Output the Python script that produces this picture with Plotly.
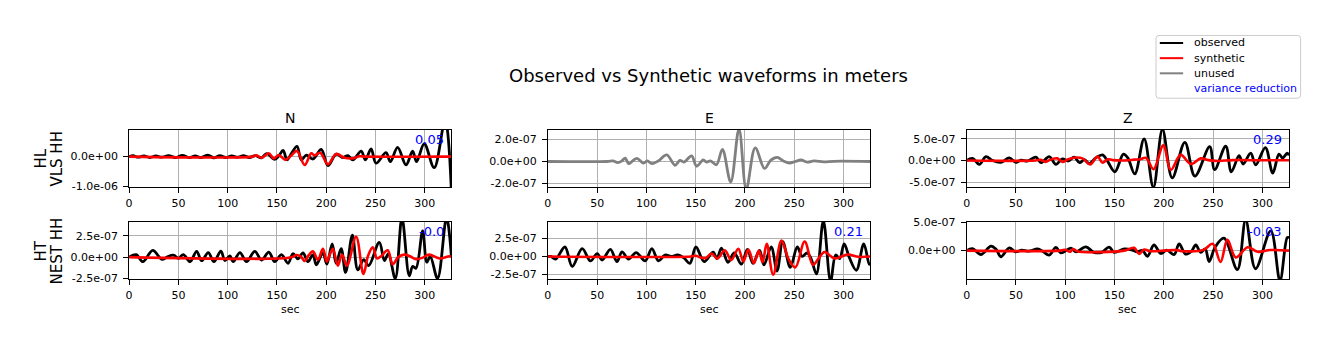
import plotly.graph_objects as go

W, H = 1329, 351
AMP = 1e-7  # amplitudes below are in units of 1e-7 m

# ---------------- data (time in sec, amplitude in 1e-7 m) ----------------
# HL / VLS HH  - N
vls_n_obs_t = [0, 4, 9, 15, 21, 27, 33, 40, 47, 54, 61, 67, 73, 80, 86, 92, 98, 104, 110, 116, 122, 128,
               134.3, 139.5, 147.7, 152, 156.2, 160.2, 164.6, 170.3, 174.7, 179.8, 186.5, 194.9, 201.7,
               210.1, 216.8, 221.9, 227, 235.4, 239.7, 245.5, 250.5, 260.6, 265, 272.4, 280.9, 287.6,
               291.6, 299.4, 309.5, 320.5, 327]
vls_n_obs_v = [0, 0.3, -0.2, 0.2, -0.3, 0.2, -0.2, 0.3, -0.3, 0.4, -0.3, 0.2, -0.3, 0.5, -0.4, 0.3, -0.3,
               0.2, -0.2, 0.3, -0.3, 0.3, -0.4, 1.0, -0.9, 0.3, 2.1, -1.1, 1.0, 3.4, -1.1, 0.5, -0.8,
               2.4, -3.0, 0.8, -0.3, 0.3, -1.1, 1.8, -1.1, 2.6, -2.2, 1.3, -1.7, 3.1, -2.8, 1.8, -1.7,
               4.3, -3.7, 12.0, -12.0]
vls_n_syn_t = [0, 125, 129.2, 134.3, 141.7, 146.7, 151.8, 158.5, 164.6, 170.3, 178.1, 184.8, 188.2, 193.9,
               201.7, 210.1, 218.5, 227, 233.7, 240, 327]
vls_n_syn_v = [0, 0, 0.4, -0.4, 1.1, -0.6, 0.5, -1.1, 0.4, 1.9, -2.8, 1.1, 0.4, 1.3, -2.6, 0.9, -0.4,
               -0.6, 0.1, 0, 0]

# HL / VLS HH  - E (unused)
vls_e_unu_t = [0, 60, 66, 71, 75, 78.5, 81.9, 86, 90.3, 97, 101, 105.5, 112, 120.6, 129, 134, 138, 145.8,
               150.9, 157.6, 161, 165, 171, 177.1, 185.5, 193.9, 201.3, 210.4, 219.8, 226, 232.6, 239,
               245, 251, 256.8, 263, 270, 280, 290, 327]
vls_e_unu_v = [0, 0, 0.05, -0.1, 0.05, 0.31, -0.2, 0.05, 0.29, -0.15, 0.05, -0.2, 0.05, 0.6, -0.34, 0.1,
               -0.05, 0.51, -0.43, 0.15, -0.05, 0.05, -0.29, 1.09, -1.86, 2.95, -2.5, 1.23, -0.63, 0.1,
               0.37, 0.05, -0.14, 0.0, 0.14, -0.05, 0.05, -0.03, 0.02, 0]

# HL / VLS HH  - Z
vls_z_obs_t = [0, 6, 12.8, 19.5, 26.3, 34.7, 43.2, 49.9, 55, 62, 70.2, 75.3, 83.7, 90.5, 97, 103, 109,
               114.5, 119.5, 124.3, 131, 137.8, 143, 150.3, 159, 163.5, 170.5, 180, 189.4, 198.6, 208.5,
               221.3, 231.5, 246.5, 251.5, 262.8, 268.5, 276.3, 280.5, 288.1, 293.2, 303, 310.5, 316.8,
               320.5, 325.2, 327]
vls_z_obs_v = [0, 0.5, -0.9, 0.9, 0.0, -0.4, 0.6, -0.4, 0.1, -0.1, 0.8, -0.5, 0.9, -0.9, 0.4, -0.1, 0.8,
               -0.5, 0.2, -0.7, 0.6, 1.3, -0.2, -2.6, 1.5, 0.6, -3.1, 5.0, -6.2, 7.2, -4.0, 4.2, -3.6,
               3.2, -2.1, 3.3, -2.6, 1.1, -0.8, 1.7, -1.0, 3.0, -2.9, 1.5, 0.6, 1.7, 1.2]
vls_z_syn_t = [0, 70, 75, 80, 85, 92, 97, 103, 110.7, 117.5, 125.3, 132.7, 137.8, 143, 148, 160, 170,
               176, 182, 189.5, 199.5, 207, 217.1, 227.3, 237.4, 245, 255, 270, 300, 327]
vls_z_syn_v = [0, 0, 0.15, -0.3, 0.2, 0.5, -0.3, 0.3, 0.7, 0.5, -0.9, 0.9, -0.5, 0.3, 0.1, 0.0, 0.2,
               0.3, 0.6, -2.0, 3.5, -2.2, 1.3, -0.8, 0.5, 0.1, -0.1, 0.1, 0.05, 0.05]

# HT / NEST HH - N
nest_n_obs_t = [0, 7.2, 13.9, 24, 33.2, 39, 45, 50, 55, 61.8, 68.5, 73.6, 80.3, 86, 93.1, 97.2, 102.2,
                105.6, 112.4, 119.1, 127.5, 134.3, 141.7, 147.7, 154.5, 161.2, 166.3, 171.3, 176.4, 181.4,
                186.5, 189.9, 196.6, 200.6, 206, 210, 215.1, 219.6, 226.5, 232, 238, 243, 253.8, 259,
                263, 270, 276.8, 284.2, 287.6, 291, 297.8, 302, 305.5, 312.9, 322, 327]
nest_n_obs_v = [0, 0.3, -0.53, 0.8, -0.27, 0.05, 0.23, -0.15, 0.3, -0.53, 0.68, -0.42, 0.53, -0.53, 0.72,
                -0.4, 0.15, -0.53, 0.53, -0.53, 0.68, -0.34, 0.6, -0.53, 0.3, -0.72, 0.42, -0.2, 0.5,
                -0.53, 0.3, -0.9, 0.5, -0.83, 1.55, -0.72, 1.0, -1.8, 2.6, -1.5, -0.3, -1.0, 1.74, -0.4,
                0.4, -2.5, 4.6, -2.2, -1.1, -1.3, 3.1, -0.6, 0.1, -2.5, 4.6, 0.0]
nest_n_syn_t = [0, 165, 169.6, 174, 178.1, 182, 186.5, 191.5, 196.6, 200.6, 203.5, 206.7, 211.8, 216,
                221, 230.3, 237.7, 242.5, 247.2, 251.5, 255.6, 262.3, 267.4, 273, 279.2, 285, 291, 297,
                304.4, 314.6, 324.7, 327]
nest_n_syn_v = [0, 0, 0.25, 0.1, -0.45, 0.2, 0.68, -0.3, 0.98, -0.53, 0.3, 0.98, -1.0, 0.3, -1.0, 2.4,
                -1.97, 0.2, 1.17, -0.15, 0.1, 0.8, -0.83, 0.0, 0.3, 0.1, -0.23, -0.1, 0.3, -0.15, 0.1, 0.05]

# HT / NEST HH - E
nest_e_obs_t = [0, 3, 7.9, 17.3, 24.7, 34.8, 43.2, 50, 55, 63.4, 70.1, 75.2, 81.9, 89.6, 98.7, 105.5,
                112.2, 118.8, 125, 132, 138, 144.1, 150.2, 158.6, 167.7, 171.5, 176.1, 182.8, 189, 196.3,
                202.4, 208.1, 214.8, 219.2, 226.6, 232.5, 238.3, 246, 253, 258, 263, 267, 272.5, 279.5,
                286.8, 292, 296, 300.6, 306, 313, 320.5, 326, 327]
nest_e_obs_v = [0, 0, -0.36, 1.3, -1.38, 1.07, -0.62, 0.4, -0.49, 0.98, -0.71, 0.62, -0.36, 0.54, -0.62,
                1.07, -0.6, 0.2, 0.0, 0.2, -0.2, -0.94, 1.3, -0.71, 0.6, -0.3, 1.16, -0.8, 0.5, -1.07,
                0.98, -0.94, 0.85, -1.16, 1.3, -2.0, 2.05, -1.5, 1.3, 0.0, 0.5, -0.3, -2.4, 4.9, -3.4,
                0.2, -0.3, 1.74, -0.2, -1.9, 1.74, -1.1, -0.9]
nest_e_syn_t = [0, 145, 150, 155, 160.5, 166, 172, 179.5, 186, 193.2, 198.3, 203.4, 209, 214, 217.8, 222,
                228.6, 237, 244, 251.1, 260.5, 268.9, 275, 280.7, 290.8, 304.3, 315, 327]
nest_e_syn_v = [0, 0, 0.1, -0.15, -0.2, 0.4, -0.3, 0.85, -0.5, 1.07, -0.7, 0.94, -0.94, 0.8, -0.8, 1.74,
                -2.5, 2.2, -0.3, -1.5, 2.05, -1.16, -0.2, 0.62, -0.27, 0.27, -0.05, 0]

# HT / NEST HH - Z
nest_z_obs_t = [0, 6, 14.5, 24.6, 30, 34.7, 43.2, 49.5, 56, 63, 72, 77, 83.7, 90.5, 95.5, 105.7, 111,
                120.9, 129, 137, 144.5, 149.6, 160, 168, 173, 178.3, 183.4, 190, 196.9, 203, 210.4, 215.5,
                222, 228, 232.4, 237.4, 242, 245.9, 252, 261, 274.6, 283, 293, 308.5, 317.8, 325.2, 327]
nest_z_obs_v = [0, 0.34, -0.68, 0.8, 0.2, -1.08, 0.5, -0.2, 0.1, -0.1, 0.3, -0.1, -0.8, 0.57, -0.4,
                0.45, -0.2, 0.68, -0.3, -0.3, 0.62, -0.3, 0.3, 0.1, -0.2, 0.05, -1.0, 1.0, -0.5, 0.1,
                -0.7, 1.2, -0.6, -0.1, 1.0, -0.3, 0.3, -1.93, 0.6, 2.2, -3.35, 5.4, -3.2, 3.5, -5.3,
                2.3, 2.3]
nest_z_syn_t = [0, 95, 100, 105, 108, 112, 160, 165, 170, 175, 180, 186, 200, 212, 220, 240, 249.5,
                257.5, 264.5, 273, 285, 295, 308, 327]
nest_z_syn_v = [0, 0, 0.15, -0.2, 0.3, -0.1, 0, 0.3, 0.5, -0.57, 0.2, -0.1, 0, 0.1, -0.1, 0.1, 1.2,
                -2.0, 1.9, -1.2, 0.6, -0.2, 0.1, 0]

# variance reduction per panel (row-major: VLS N,E,Z ; NEST N,E,Z)
var_red = ["0.05", None, "0.29", "-0.0", "0.21", "-0.03"]

components = ["N", "E", "Z"]
stations = [["HL", "VLS HH"], ["HT", "NEST HH"]]

x_ticks = [0, 50, 100, 150, 200, 250, 300]
x_ticktext = ["0", "50", "100", "150", "200", "250", "300"]

y_ticks = [[-1e-6, 0], [-2e-7, 0, 2e-7], [-5e-7, 0, 5e-7],
           [-2.5e-7, 0, 2.5e-7], [-2.5e-7, 0, 2.5e-7], [0, 5e-7]]
y_ticktext = [["-1.0e-06", "0.0e+00"], ["-2.0e-07", "0.0e+00", "2.0e-07"],
              ["-5.0e-07", "0.0e+00", "5.0e-07"], ["-2.5e-07", "0.0e+00", "2.5e-07"],
              ["-2.5e-07", "0.0e+00", "2.5e-07"], ["0.0e+00", "5.0e-07"]]
y_ranges = [[-1.03e-6, 0.89e-6], [-2.35e-7, 2.86e-7], [-6.2e-7, 7.05e-7],
            [-2.61e-7, 4.14e-7], [-3.15e-7, 4.75e-7], [-5.07e-7, 5.07e-7]]
x_range = [0, 327]

panels = [
    [(vls_n_obs_t, vls_n_obs_v, "obs"), (vls_n_syn_t, vls_n_syn_v, "syn")],
    [(vls_e_unu_t, vls_e_unu_v, "unused")],
    [(vls_z_obs_t, vls_z_obs_v, "obs"), (vls_z_syn_t, vls_z_syn_v, "syn")],
    [(nest_n_obs_t, nest_n_obs_v, "obs"), (nest_n_syn_t, nest_n_syn_v, "syn")],
    [(nest_e_obs_t, nest_e_obs_v, "obs"), (nest_e_syn_t, nest_e_syn_v, "syn")],
    [(nest_z_obs_t, nest_z_obs_v, "obs"), (nest_z_syn_t, nest_z_syn_v, "syn")],
]

# ---------------- layout geometry (pixels) ----------------
COLS = [(125.5, 448.8), (545.5, 868.8), (965.6, 1288.9)]
ROWS = [(128.4, 187.8), (223.6, 283.0)]
FONT = "DejaVu Sans"
STYLE = {"obs": ("black", 2.8), "syn": ("red", 2.6), "unused": ("gray", 2.8)}


def px(x):
    return x / W


def py(y):
    return 1 - y / H


fig = go.Figure()
layout = {}
annotations = []
shapes = []

for i, traces in enumerate(panels):
    r, c = divmod(i, 3)
    xa = "x" if i == 0 else f"x{i+1}"
    ya = "y" if i == 0 else f"y{i+1}"
    for t, v, kind in traces:
        color, width = STYLE[kind]
        fig.add_trace(go.Scatter(
            x=t, y=[val * AMP for val in v], mode="lines",
            line=dict(color=color, width=width, shape="spline", smoothing=1.0),
            xaxis=xa, yaxis=ya, showlegend=False, hoverinfo="skip"))
    common = dict(showgrid=True, gridcolor="#b0b0b0", gridwidth=0.8, zeroline=False,
                  showline=True, mirror=True, linecolor="black", linewidth=1,
                  ticks="outside", ticklen=5, tickwidth=1, tickcolor="black",
                  tickfont=dict(family=FONT, size=11, color="black"), fixedrange=True)
    layout["xaxis" if i == 0 else f"xaxis{i+1}"] = dict(
        common, domain=[px(COLS[c][0]), px(COLS[c][1])], range=x_range,
        tickmode="array", tickvals=x_ticks, ticktext=x_ticktext, anchor=ya)
    layout["yaxis" if i == 0 else f"yaxis{i+1}"] = dict(
        common, domain=[py(ROWS[r][1]), py(ROWS[r][0])], range=y_ranges[i],
        tickmode="array", tickvals=y_ticks[i], ticktext=y_ticktext[i], anchor=xa,
        ticklabelstandoff=3)
    if var_red[i] is not None:
        annotations.append(dict(
            text=var_red[i], x=px(COLS[c][1] - 5), y=py(ROWS[r][0] + 10),
            xref="paper", yref="paper", xanchor="right", yanchor="middle",
            showarrow=False, font=dict(family=FONT, size=13, color="blue")))

# component titles
for c, name in enumerate(components):
    annotations.append(dict(text=name, x=px((COLS[c][0] + COLS[c][1]) / 2), y=py(116),
                            xref="paper", yref="paper", xanchor="center", yanchor="middle",
                            showarrow=False, font=dict(family=FONT, size=14, color="black")))
    annotations.append(dict(text="sec", x=px((COLS[c][0] + COLS[c][1]) / 2), y=py(314),
                            xref="paper", yref="paper", xanchor="center", yanchor="middle",
                            showarrow=False, font=dict(family=FONT, size=11, color="black")))

# station labels (two rotated lines)
for r, (l1, l2) in enumerate(stations):
    yc = (ROWS[r][0] + ROWS[r][1]) / 2
    annotations.append(dict(text=l1, x=px(37), y=py(yc), xref="paper", yref="paper",
                            xanchor="center", yanchor="middle", textangle=-90, showarrow=False,
                            font=dict(family=FONT, size=15, color="black")))
    annotations.append(dict(text=l2, x=px(53), y=py(yc), xref="paper", yref="paper",
                            xanchor="center", yanchor="middle", textangle=-90, showarrow=False,
                            font=dict(family=FONT, size=15, color="black")))

# super title
annotations.append(dict(text="Observed vs Synthetic waveforms in meters", x=px(707), y=py(72),
                        xref="paper", yref="paper", xanchor="center", yanchor="middle",
                        showarrow=False, font=dict(family=FONT, size=18, color="black")))

# legend (drawn manually)
lx0, lx1, ly0, ly1, rr = 1155.5, 1300.5, 30.5, 95.5, 3
path = (f"M {px(lx0+rr)},{py(ly0)} L {px(lx1-rr)},{py(ly0)} Q {px(lx1)},{py(ly0)} {px(lx1)},{py(ly0+rr)} "
        f"L {px(lx1)},{py(ly1-rr)} Q {px(lx1)},{py(ly1)} {px(lx1-rr)},{py(ly1)} "
        f"L {px(lx0+rr)},{py(ly1)} Q {px(lx0)},{py(ly1)} {px(lx0)},{py(ly1-rr)} "
        f"L {px(lx0)},{py(ly0+rr)} Q {px(lx0)},{py(ly0)} {px(lx0+rr)},{py(ly0)} Z")
shapes.append(dict(type="path", path=path, xref="paper", yref="paper",
                   line=dict(color="#cccccc", width=1), fillcolor="rgba(255,255,255,0.8)", layer="above"))
legend_items = [("observed", "black", "black"), ("synthetic", "red", "black"),
                ("unused", "gray", "black"), ("variance reduction", None, "blue")]
for k, (label, lcol, tcol) in enumerate(legend_items):
    yy = 38.3 + k * 15.7
    if lcol:
        shapes.append(dict(type="line", x0=px(1159.3), x1=px(1182.7), y0=py(yy), y1=py(yy),
                           xref="paper", yref="paper", line=dict(color=lcol, width=2), layer="above"))
    annotations.append(dict(text=label, x=px(1191.5), y=py(yy), xref="paper", yref="paper",
                            xanchor="left", yanchor="middle", showarrow=False,
                            font=dict(family=FONT, size=11, color=tcol)))

fig.update_layout(
    width=W, height=H, margin=dict(l=0, r=0, t=0, b=0),
    paper_bgcolor="white", plot_bgcolor="white",
    annotations=annotations, shapes=shapes, showlegend=False, **layout)

fig.write_html("out.html")
